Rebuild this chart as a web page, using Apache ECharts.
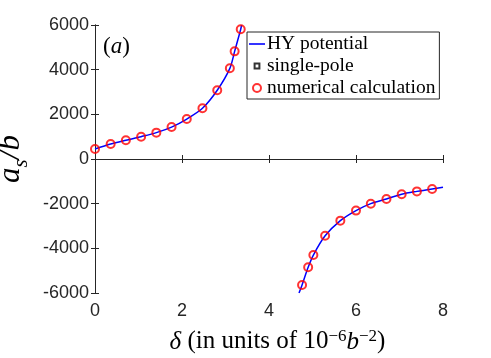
<!DOCTYPE html>
<html>
<head>
<meta charset="utf-8">
<script src="https://cdn.jsdelivr.net/npm/echarts@6/dist/echarts.min.js"></script>
<style>
  html, body { margin: 0; padding: 0; background: #fff; }
  #chart { width: 491px; height: 358px; }
</style>
</head>
<body>
<div id="chart"></div>
<script>
// numerical calculation (red circles)
const deltaLeft = [0, 0.36, 0.71, 1.06, 1.41, 1.76, 2.11, 2.47, 2.81, 3.10, 3.21, 3.35];
const asLeft = [450, 670, 840, 1000, 1180, 1430, 1790, 2270, 3080, 4060, 4820, 5810];
const deltaRight = [4.76, 4.90, 5.02, 5.29, 5.64, 6.00, 6.34, 6.70, 7.05, 7.40, 7.75];
const asRight = [-5640, -4850, -4300, -3440, -2760, -2310, -2000, -1790, -1580, -1450, -1340];

// HY potential curve: the circles plus where the curve leaves / enters the frame
const hyLeftX = [0, 0.36, 0.71, 1.06, 1.41, 1.76, 2.11, 2.47, 2.81, 3.10, 3.21, 3.35, 3.37];
const hyLeftY = [450, 670, 840, 1000, 1180, 1430, 1790, 2270, 3080, 4060, 4820, 5810, 6000];
const hyRightX = [4.69, 4.76, 4.90, 5.02, 5.29, 5.64, 6.00, 6.34, 6.70, 7.05, 7.40, 7.75, 8];
const hyRightY = [-6000, -5640, -4850, -4300, -3440, -2760, -2310, -2000, -1790, -1580, -1450, -1340, -1270];

// single-pole points are hidden under the circles in the figure
const singlePole = [];

const xTicks = [0, 2, 4, 6, 8];
const yTicks = [-6000, -4000, -2000, 0, 2000, 4000, 6000];

const zip = (xs, ys) => xs.map((x, i) => [x, ys[i]]);
const hyData = zip(hyLeftX, hyLeftY).concat([[4, null]], zip(hyRightX, hyRightY));
const numData = zip(deltaLeft, asLeft).concat(zip(deltaRight, asRight));

const axisColor = '#262626';
const serif = '"Liberation Serif", "DejaVu Serif", serif';
const sans = '"Liberation Sans", Arial, sans-serif';

const chart = echarts.init(document.getElementById('chart'));

const xBase = {
  type: 'value', min: xTicks[0], max: xTicks[xTicks.length - 1], interval: 2,
  axisLine: { show: true, lineStyle: { color: axisColor, width: 1 } },
  axisTick: { show: true, inside: true, length: 4, lineStyle: { color: axisColor } },
  splitLine: { show: false }
};
const yBase = {
  type: 'value', min: yTicks[0], max: yTicks[yTicks.length - 1], interval: 2000,
  axisLine: { show: true, lineStyle: { color: axisColor, width: 1 } },
  axisTick: { show: true, inside: true, length: 4, lineStyle: { color: axisColor } },
  splitLine: { show: false }
};

const option = {
  animation: false,
  backgroundColor: '#fff',
  grid: { left: 95, right: 48, top: 25, bottom: 65, outerBoundsMode: 'none', containLabel: false },
  xAxis: [
    Object.assign({}, xBase, {
      position: 'bottom',
      axisLabel: { color: axisColor, fontSize: 18, fontFamily: sans, margin: 9 },
      name: '{i|δ} (in units of 10{sup|−6}{i|b}{sup|−2})',
      nameLocation: 'middle',
      nameGap: 35,
      nameTextStyle: {
        color: '#000', fontSize: 25, fontFamily: serif, padding: [0, 0, 0, 17],
        rich: {
          i: { fontStyle: 'italic', fontSize: 25, fontFamily: serif, verticalAlign: 'bottom' },
          sup: { fontSize: 17, fontFamily: serif, verticalAlign: 'bottom', padding: [0, 0, 10, 0] }
        }
      }
    }),
    Object.assign({}, xBase, { position: 'top', axisLabel: { show: false } })
  ],
  yAxis: [
    Object.assign({}, yBase, {
      position: 'left',
      axisLabel: { color: axisColor, fontSize: 18, fontFamily: sans, margin: 6, formatter: v => String(v) },
      name: '{a|a}{s|s}{a|/b}',
      nameLocation: 'middle',
      nameGap: 58,
      nameTextStyle: {
        color: '#000', fontFamily: serif,
        rich: {
          a: { fontStyle: 'italic', fontSize: 31, fontFamily: serif, verticalAlign: 'bottom', padding: [0, 0, 6, 0] },
          s: { fontStyle: 'italic', fontSize: 21, fontFamily: serif, verticalAlign: 'bottom' }
        }
      }
    }),
    Object.assign({}, yBase, { position: 'right', axisLabel: { show: false } })
  ],
  legend: {
    orient: 'vertical',
    left: 247,
    top: 32,
    padding: [2, 4, 1, 2],
    itemGap: 2,
    itemWidth: 16,
    itemHeight: 8,
    backgroundColor: '#fff',
    borderColor: axisColor,
    borderWidth: 1,
    borderRadius: 0,
    textStyle: { color: '#000', fontSize: 19.5, fontFamily: serif, padding: [0, 0, 0, -3] },
    data: [
      { name: 'HY potential', icon: 'path://M0,0M16,8M0,3.2h16v1.6h-16z', itemStyle: { color: '#0000ff' } },
      { name: 'single-pole', icon: 'path://M0,0M10,10M2,2h6v6h-6z' },
      { name: 'numerical calculation', icon: 'circle' }
    ]
  },
  graphic: [
    {
      type: 'text', left: 103, top: 35,
      style: {
        text: '({i|a})',
        fontSize: 23, fontFamily: serif, fill: '#000',
        rich: { i: { fontStyle: 'italic', fontSize: 23, fontFamily: serif } }
      }
    }
  ],
  series: [
    {
      name: 'HY potential',
      type: 'line',
      data: hyData,
      showSymbol: false,
      symbol: 'none',
      smooth: 0.3,
      connectNulls: false,
      lineStyle: { color: '#0000ff', width: 1.5 },
      itemStyle: { color: '#0000ff' },
      clip: true,
      z: 2
    },
    {
      name: 'single-pole',
      type: 'scatter',
      data: singlePole,
      symbol: 'rect',
      symbolSize: 5,
      symbolKeepAspect: true,
      itemStyle: { color: '#fff', borderColor: '#000', borderWidth: 1.2 },
      z: 3
    },
    {
      name: 'numerical calculation',
      type: 'scatter',
      data: numData,
      symbol: 'circle',
      symbolSize: 8,
      symbolKeepAspect: true,
      itemStyle: { color: 'rgba(0,0,0,0)', borderColor: '#ff0000', borderWidth: 2 },
      z: 4
    }
  ]
};

chart.setOption(option);
window.addEventListener('resize', () => chart.resize());
</script>
</body>
</html>
